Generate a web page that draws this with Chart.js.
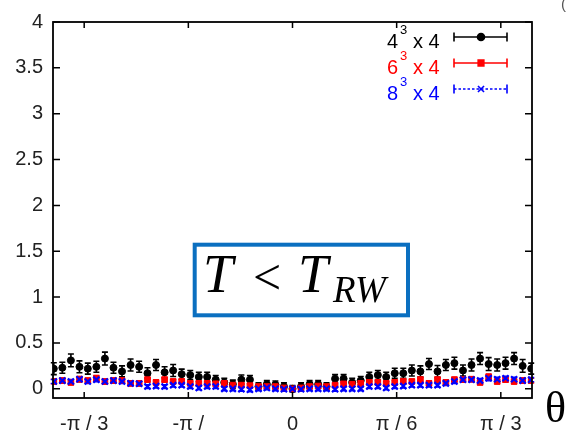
<!DOCTYPE html>
<html>
<head>
<meta charset="utf-8">
<script src="https://cdn.jsdelivr.net/npm/chart.js@4.4.0/dist/chart.umd.min.js"></script>
<style>
  html, body { margin: 0; padding: 0; background: #fff; }
  #wrap { position: relative; width: 571px; height: 436px; }
</style>
</head>
<body>
<div id="wrap"><canvas id="chart" width="571" height="436"></canvas></div>
<script>
// theta values (rad) of the measured points
const theta = [
  -1.200, -1.157, -1.114, -1.071, -1.029, -0.986, -0.943, -0.900, -0.857, -0.814,
  -0.771, -0.729, -0.686, -0.643, -0.600, -0.557, -0.514, -0.471, -0.429, -0.386,
  -0.343, -0.300, -0.257, -0.214, -0.171, -0.129, -0.086, -0.043, 0.000,
  0.043, 0.086, 0.129, 0.171, 0.214, 0.257, 0.300, 0.343, 0.386, 0.429,
  0.471, 0.514, 0.557, 0.600, 0.643, 0.686, 0.729, 0.771, 0.814, 0.857,
  0.900, 0.943, 0.986, 1.029, 1.071, 1.114, 1.157, 1.200
];

// 4^3 x 4
const black = [
  0.22, 0.23, 0.31, 0.24, 0.22, 0.24, 0.33, 0.23, 0.19, 0.26, 0.24, 0.17, 0.26, 0.18, 0.20,
  0.16, 0.15, 0.13, 0.13, 0.10, 0.07, 0.05, 0.10, 0.10, 0.025, 0.05, 0.045, 0.025, 0.0,
  0.025, 0.05, 0.05, 0.025, 0.11, 0.11, 0.07, 0.09, 0.13, 0.15, 0.13, 0.17, 0.17, 0.20,
  0.19, 0.27, 0.19, 0.26, 0.28, 0.20, 0.26, 0.33, 0.27, 0.26, 0.28, 0.33, 0.25, 0.22
];
const blackErr = [
  0.065, 0.06, 0.07, 0.065, 0.06, 0.06, 0.07, 0.06, 0.06, 0.065, 0.06, 0.06, 0.06, 0.06, 0.065,
  0.055, 0.05, 0.05, 0.05, 0.045, 0.045, 0.045, 0.05, 0.045, 0.04, 0.04, 0.04, 0.04, 0.035,
  0.04, 0.04, 0.04, 0.04, 0.045, 0.045, 0.045, 0.045, 0.05, 0.05, 0.05, 0.055, 0.055, 0.06,
  0.06, 0.06, 0.065, 0.06, 0.065, 0.06, 0.065, 0.065, 0.07, 0.065, 0.065, 0.065, 0.07, 0.06
];

// 6^3 x 4
const red = [
  0.08, 0.09, 0.07, 0.105, 0.09, 0.115, 0.08, 0.09, 0.09, 0.06, 0.06, 0.10, 0.07, 0.10, 0.08,
  0.08, 0.06, 0.06, 0.06, 0.055, 0.06, 0.04, 0.04, 0.035, 0.025, 0.025, 0.025, 0.01, 0.0,
  0.01, 0.025, 0.03, 0.025, 0.04, 0.054, 0.05, 0.06, 0.07, 0.07, 0.06, 0.07, 0.08, 0.08,
  0.10, 0.06, 0.10, 0.07, 0.10, 0.10, 0.105, 0.07, 0.13, 0.08, 0.10, 0.08, 0.09, 0.09
];
const redErr = [
  0.025, 0.025, 0.025, 0.03, 0.025, 0.03, 0.025, 0.025, 0.025, 0.025, 0.025, 0.025, 0.025, 0.025, 0.025,
  0.025, 0.022, 0.022, 0.022, 0.022, 0.022, 0.02, 0.02, 0.02, 0.02, 0.02, 0.02, 0.02, 0.02,
  0.02, 0.02, 0.02, 0.02, 0.02, 0.022, 0.022, 0.022, 0.022, 0.022, 0.022, 0.025, 0.025, 0.025,
  0.025, 0.025, 0.025, 0.025, 0.025, 0.025, 0.025, 0.025, 0.03, 0.025, 0.025, 0.025, 0.025, 0.025
];

// 8^3 x 4
const blue = [
  0.08, 0.09, 0.08, 0.105, 0.08, 0.10, 0.08, 0.09, 0.08, 0.06, 0.055, 0.025, 0.03, 0.025, 0.04,
  0.04, 0.025, 0.01, 0.025, 0.025, 0.0, 0.0, -0.005, -0.01, 0.0, 0.01, 0.0, -0.005, 0.0,
  -0.005, 0.0, 0.0, 0.0, -0.005, 0.0, 0.0, 0.0, 0.025, 0.025, 0.01, 0.025, 0.03, 0.04,
  0.04, 0.04, 0.04, 0.06, 0.08, 0.10, 0.10, 0.09, 0.115, 0.105, 0.115, 0.105, 0.09, 0.10
];
const blueErr = [
  0.022, 0.022, 0.022, 0.025, 0.022, 0.022, 0.022, 0.022, 0.022, 0.022, 0.022, 0.02, 0.02, 0.02, 0.02,
  0.02, 0.02, 0.02, 0.02, 0.02, 0.02, 0.02, 0.02, 0.02, 0.02, 0.02, 0.02, 0.02, 0.02,
  0.02, 0.02, 0.02, 0.02, 0.02, 0.02, 0.02, 0.02, 0.02, 0.02, 0.02, 0.02, 0.02, 0.02,
  0.02, 0.02, 0.02, 0.022, 0.022, 0.022, 0.022, 0.022, 0.025, 0.022, 0.022, 0.022, 0.022, 0.022
];

const xTickValues = [-Math.PI / 3, -Math.PI / 6, 0, Math.PI / 6, Math.PI / 3];
const xTickLabels = ["-π / 3", "-π /", "0", "π / 6", "π / 3"];
const yTickValues = [0, 0.5, 1, 1.5, 2, 2.5, 3, 3.5, 4];
const yTickLabels = ["0", "0.5", "1", "1.5", "2", "2.5", "3", "3.5", "4"];

const legendRows = [
  { base: "4", sup: "3", tail: "x 4", color: "#000000" },
  { base: "6", sup: "3", tail: "x 4", color: "#ff0000" },
  { base: "8", sup: "3", tail: "x 4", color: "#0000ff" }
];

const pts = (ys) => theta.map((t, i) => ({ x: t, y: ys[i] }));

// error bars under the markers
const errorBars = {
  id: "errorBars",
  beforeDatasetsDraw(chart) {
    const { ctx, scales: { x, y } } = chart;
    chart.data.datasets.forEach((ds) => {
      ctx.save();
      ctx.strokeStyle = ds.borderColor;
      ctx.lineWidth = 1.6;
      ds.data.forEach((p, j) => {
        const px = x.getPixelForValue(p.x);
        const top = y.getPixelForValue(p.y + ds.errors[j]);
        const bot = y.getPixelForValue(p.y - ds.errors[j]);
        ctx.beginPath();
        ctx.moveTo(px, top); ctx.lineTo(px, bot);
        ctx.moveTo(px - 3, top); ctx.lineTo(px + 3, top);
        ctx.moveTo(px - 3, bot); ctx.lineTo(px + 3, bot);
        ctx.stroke();
      });
      ctx.restore();
    });
  }
};

// gnuplot-style frame, inner ticks, legend and labels
const decorations = {
  id: "decorations",
  afterDraw(chart) {
    const { ctx, chartArea: a, scales: { x, y } } = chart;
    ctx.save();
    ctx.strokeStyle = "#000";
    ctx.lineWidth = 1.8;
    ctx.strokeRect(a.left, a.top, a.right - a.left, a.bottom - a.top);
    ctx.lineWidth = 1.5;
    ctx.beginPath();
    xTickValues.forEach((v) => {
      const px = x.getPixelForValue(v);
      ctx.moveTo(px, a.bottom); ctx.lineTo(px, a.bottom - 6);
      ctx.moveTo(px, a.top); ctx.lineTo(px, a.top + 6);
    });
    yTickValues.forEach((v) => {
      const py = y.getPixelForValue(v);
      ctx.moveTo(a.left, py); ctx.lineTo(a.left + 7, py);
      ctx.moveTo(a.right, py); ctx.lineTo(a.right - 7, py);
    });
    ctx.stroke();

    // legend
    legendRows.forEach((r, i) => {
      const base = 48 + i * 26;
      const ly = 37 + i * 26;
      ctx.fillStyle = r.color;
      ctx.font = '20px "Liberation Sans"';
      ctx.fillText(r.base, 387, base);
      ctx.fillText(r.tail, 413, base);
      ctx.font = '13px "Liberation Sans"';
      ctx.fillText(r.sup, 400, base - 14);

      const ds = chart.data.datasets[i];
      ctx.strokeStyle = r.color;
      ctx.lineWidth = 1.6;
      ctx.setLineDash(i === 2 ? [2.5, 2] : []);
      ctx.beginPath();
      ctx.moveTo(454, ly); ctx.lineTo(507, ly);
      ctx.stroke();
      ctx.setLineDash([]);
      ctx.beginPath();
      ctx.moveTo(454, ly - 4.5); ctx.lineTo(454, ly + 4.5);
      ctx.moveTo(507, ly - 4.5); ctx.lineTo(507, ly + 4.5);
      ctx.stroke();
      Chart.helpers.drawPoint(ctx, {
        pointStyle: ds.pointStyle, radius: ds.pointRadius, borderWidth: ds.borderWidth
      }, 481, ly);
      ctx.fillStyle = r.color;
      if (ds.pointStyle !== "crossRot") {
        ctx.beginPath();
        if (ds.pointStyle === "circle") ctx.arc(481, ly, 3, 0, Math.PI * 2);
        else ctx.rect(481 - 2.5, ly - 2.5, 5, 5);
        ctx.fill();
      }
    });

    // T < T_RW box
    ctx.strokeStyle = "#0b6fc0";
    ctx.lineWidth = 4;
    ctx.strokeRect(194.7, 244.7, 213.3, 70.6);
    ctx.fillStyle = "#000";
    ctx.font = 'italic 54px "Liberation Serif"';
    ctx.fillText("T", 203, 292);
    ctx.fillText("T", 298, 292);
    ctx.font = '50px "Liberation Serif"';
    ctx.fillText("<", 253, 294);
    ctx.font = 'italic 37px "Liberation Serif"';
    ctx.fillText("RW", 333, 302);

    // axis symbol
    ctx.font = '44px "Liberation Serif"';
    ctx.fillText("θ", 545, 422);
    ctx.fillStyle = "#555";
    ctx.font = '15px "Liberation Sans"';
    ctx.fillText("(", 561, 9);
    ctx.restore();
  }
};

new Chart(document.getElementById("chart"), {
  type: "scatter",
  data: {
    datasets: [
      {
        label: "4^3 x 4", data: pts(black), errors: blackErr,
        borderColor: "#000000", backgroundColor: "#000000",
        pointStyle: "circle", pointRadius: 3.5, borderWidth: 1, order: 2
      },
      {
        label: "6^3 x 4", data: pts(red), errors: redErr,
        borderColor: "#ff0000", backgroundColor: "#ff0000",
        pointStyle: "rect", pointRadius: 4, borderWidth: 1, order: 1
      },
      {
        label: "8^3 x 4", data: pts(blue), errors: blueErr,
        borderColor: "#0000ff", backgroundColor: "#0000ff",
        pointStyle: "crossRot", pointRadius: 4.3, borderWidth: 2.2, order: 0
      }
    ]
  },
  options: {
    responsive: false,
    animation: false,
    devicePixelRatio: 1,
    layout: { padding: { top: 17, right: 39, left: 0, bottom: 0 } },
    plugins: { legend: { display: false }, tooltip: { enabled: false } },
    scales: {
      x: {
        type: "linear", min: -1.204, max: 1.204,
        grid: { display: false, drawTicks: false },
        border: { display: false },
        afterFit: (s) => { s.height = 38; },
        afterBuildTicks: (s) => { s.ticks = xTickValues.map((v) => ({ value: v })); },
        ticks: {
          padding: 14, color: "#222", maxRotation: 0, autoSkip: false,
          font: { family: "Liberation Sans", size: 20 },
          callback: (v, i) => xTickLabels[i]
        }
      },
      y: {
        min: -0.1, max: 4,
        grid: { display: false, drawTicks: false },
        border: { display: false },
        afterFit: (s) => { s.width = 53; },
        afterBuildTicks: (s) => { s.ticks = yTickValues.map((v) => ({ value: v })); },
        ticks: {
          padding: 10, color: "#222", autoSkip: false,
          font: { family: "Liberation Sans", size: 20 },
          callback: (v, i) => yTickLabels[i]
        }
      }
    }
  },
  plugins: [errorBars, decorations]
});
</script>
</body>
</html>
